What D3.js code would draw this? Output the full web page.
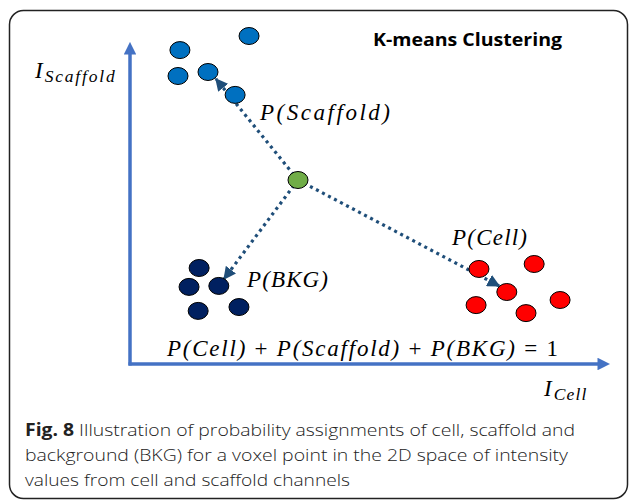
<!DOCTYPE html>
<html>
<head>
<meta charset="utf-8">
<script src="https://cdn.jsdelivr.net/npm/d3@7"></script>
<style>
  html, body { margin: 0; padding: 0; background: #fff; }
  svg { display: block; }
</style>
</head>
<body>
<svg id="chart" width="630" height="500"></svg>
<script>
// ---- Data (intensity space, arbitrary units) ----
const scaffoldPoints = [[24.8, 102.5], [10.4, 98.1], [10.0, 90.0], [16.25, 91.25], [21.9, 84.1]];
const bkgPoints      = [[14.4, 30.0], [12.3, 24.1], [18.5, 24.4], [14.2, 16.6], [22.7, 17.8]];
const cellPoints     = [[72.7, 29.7], [84.2, 31.25], [78.5, 22.5], [89.6, 20.0], [72.1, 18.4], [82.5, 15.9]];
const voxelPoint     = [35.0, 57.5];
const arrowTargets   = [
  { name: "P(Scaffold)", tip: [17.9, 89.1] },
  { name: "P(BKG)",      tip: [19.6, 26.6] },
  { name: "P(Cell)",     tip: [76.9, 24.4] }
];
const title = "K-means Clustering";
const equation = "P(Cell) + P(Scaffold) + P(BKG) = 1";
const captionBold = "Fig. 8";
const captionLines = [
  " Illustration of probability assignments of cell, scaffold and",
  "background (BKG) for a voxel point in the 2D space of intensity",
  "values from cell and scaffold channels"
];

// ---- Layout ----
const svg = d3.select("#chart");
const x = d3.scaleLinear().domain([0, 100]).range([130, 610]);
const y = d3.scaleLinear().domain([0, 100]).range([364, 44]);

const defs = svg.append("defs");
defs.append("marker").attr("id", "axisHead")
  .attr("viewBox", "0 0 10 10").attr("refX", 2).attr("refY", 5)
  .attr("markerWidth", 3.6).attr("markerHeight", 3.6).attr("orient", "auto")
  .append("path").attr("d", "M0,0 L10,5 L0,10 Z").attr("fill", "#4472C4");
defs.append("marker").attr("id", "dotHead")
  .attr("viewBox", "0 0 10 10").attr("refX", 9).attr("refY", 5)
  .attr("markerWidth", 4).attr("markerHeight", 4).attr("orient", "auto")
  .attr("markerUnits", "strokeWidth")
  .append("path").attr("d", "M0,0 L10,5 L0,10 Z").attr("fill", "#1F4E79");

// Frame
svg.append("rect").attr("x", 9.5).attr("y", 10.5).attr("width", 618).attr("height", 488)
  .attr("rx", 14).attr("fill", "none").attr("stroke", "#222").attr("stroke-width", 1.5);

// Axes
svg.append("line").attr("x1", x(0)).attr("y1", y(0) + 1.5).attr("x2", x(0)).attr("y2", 52)
  .attr("stroke", "#4472C4").attr("stroke-width", 3.5).attr("marker-end", "url(#axisHead)");
svg.append("line").attr("x1", x(0) - 1.5).attr("y1", y(0)).attr("x2", 600).attr("y2", y(0))
  .attr("stroke", "#4472C4").attr("stroke-width", 3.5).attr("marker-end", "url(#axisHead)");

// Arrows from voxel point
svg.append("g").selectAll("line").data(arrowTargets).join("line")
  .attr("x1", x(voxelPoint[0])).attr("y1", y(voxelPoint[1]))
  .attr("x2", d => x(d.tip[0])).attr("y2", d => y(d.tip[1]))
  .attr("stroke", "#1F4E79").attr("stroke-width", 3.2)
  .attr("stroke-dasharray", "3,3.8")
  .attr("marker-end", "url(#dotHead)");

// Clusters
function cluster(data, fill) {
  svg.append("g").selectAll("ellipse").data(data).join("ellipse")
    .attr("cx", d => x(d[0])).attr("cy", d => y(d[1]))
    .attr("rx", 10).attr("ry", 8.5)
    .attr("fill", fill).attr("stroke", "#000").attr("stroke-width", 1);
}
cluster(scaffoldPoints, "#0070C0");
cluster(bkgPoints, "#002060");
cluster(cellPoints, "#FF0000");
cluster([voxelPoint], "#70AD47");

// Math labels
const mathFont = "'Liberation Serif', 'DejaVu Serif', serif";
function mathText(str, px, py, len) {
  return svg.append("text").attr("x", px).attr("y", py)
    .attr("font-family", mathFont).attr("font-style", "italic").attr("font-size", 23)
    .attr("fill", "#000").attr("textLength", len).attr("lengthAdjust", "spacing")
    .text(str);
}
mathText("P(Scaffold)", 260, 120, 130);
mathText("P(BKG)", 247, 287, 81);
mathText("P(Cell)", 452, 245, 75);

// Equation (upright operators, italic letters)
const eq = svg.append("text").attr("x", 167).attr("y", 356)
  .attr("font-family", mathFont).attr("font-size", 23).attr("fill", "#000")
  .attr("textLength", 391).attr("lengthAdjust", "spacing");
equation.split(/([+=]|\s1$)/).forEach(part => {
  if (!part) return;
  const upright = /^[+=]$|1$/.test(part.trim());
  eq.append("tspan").attr("font-style", upright ? "normal" : "italic").text(part);
});

// Axis labels
const yl = svg.append("text").attr("x", 35).attr("y", 78)
  .attr("font-family", mathFont).attr("font-style", "italic").attr("fill", "#000");
yl.append("tspan").attr("font-size", 23).text("I");
yl.append("tspan").attr("font-size", 17.5).attr("dy", 4).attr("dx", 2)
  .attr("letter-spacing", 1.8).text("Scaffold");

const xl = svg.append("text").attr("x", 544).attr("y", 396)
  .attr("font-family", mathFont).attr("font-style", "italic").attr("fill", "#000");
xl.append("tspan").attr("font-size", 23).text("I");
xl.append("tspan").attr("font-size", 17.5).attr("dy", 4).attr("dx", 2)
  .attr("letter-spacing", 1.2).text("Cell");

// Title
svg.append("text").attr("x", 373).attr("y", 46)
  .attr("font-family", "'Open Sans', 'Liberation Sans', sans-serif").attr("font-weight", "bold")
  .attr("font-size", 18).attr("fill", "#000")
  .attr("textLength", 189).attr("lengthAdjust", "spacingAndGlyphs")
  .text(title);

// Caption
const capFont = "'Open Sans', 'Noto Sans', sans-serif";
const capLens = [550, 543, 325];
const capY = [436, 461, 486];
captionLines.forEach((line, i) => {
  const t = svg.append("text").attr("x", 25).attr("y", capY[i])
    .attr("font-family", capFont).attr("font-size", 17).attr("fill", "#222")
    .attr("textLength", capLens[i]).attr("lengthAdjust", "spacingAndGlyphs");
  if (i === 0) {
    t.append("tspan").attr("font-weight", "bold").text(captionBold);
  }
  t.append("tspan").attr("font-weight", 300).text(line);
});
</script>
</body>
</html>
